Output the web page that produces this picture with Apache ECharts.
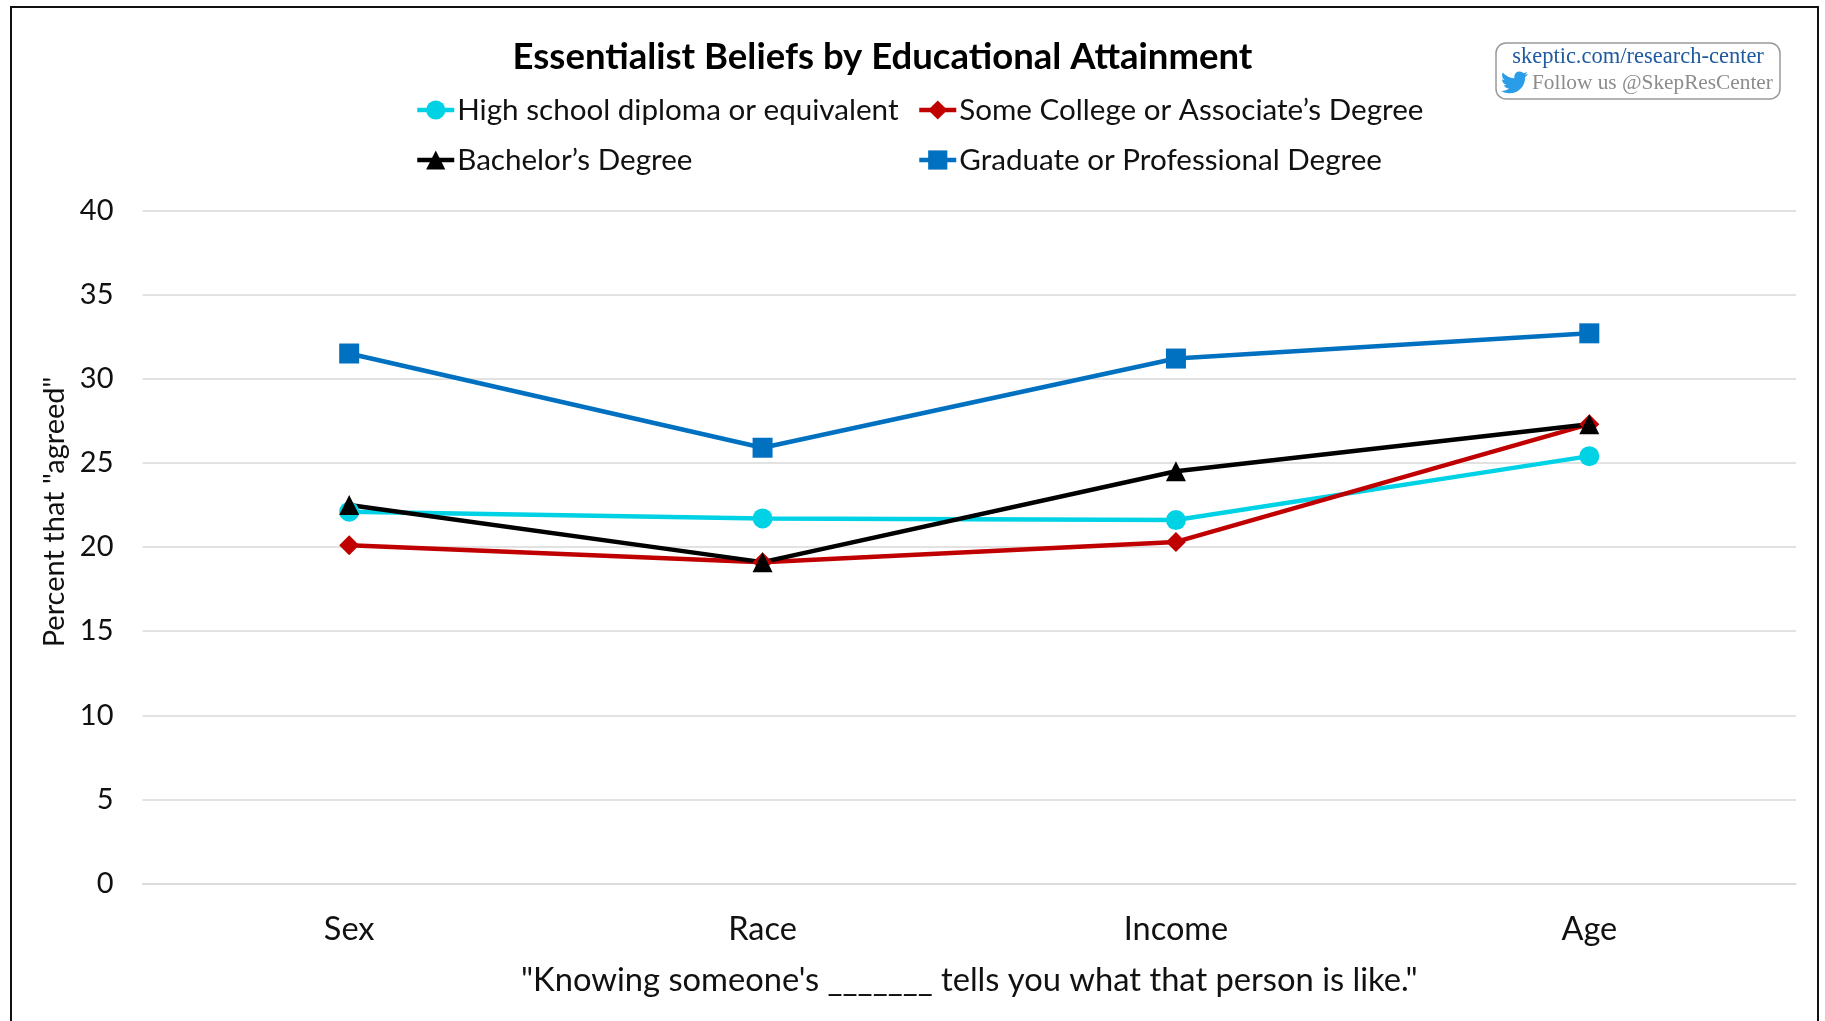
<!DOCTYPE html>
<html>
<head>
<meta charset="utf-8">
<style>html,body{margin:0;padding:0;background:#fff;overflow:hidden}#chart{width:1825px;height:1021px}</style>
<script src="https://cdn.jsdelivr.net/npm/echarts@6/dist/echarts.min.js"></script>
</head>
<body>
<div id="chart"></div>
<script>
const categories = ['Sex', 'Race', 'Income', 'Age'];
const highSchool = [22.1, 21.7, 21.6, 25.4];
const someCollege = [20.1, 19.1, 20.3, 27.3];
const bachelors = [22.5, 19.1, 24.5, 27.3];
const graduate = [31.5, 25.9, 31.2, 32.7];

const FONT = '"Lato", "Noto Sans", sans-serif';
const TEXT = '#111';
const TWITTER = 'M23.953 4.57 a10 10 0 0 1 -2.825 .775 a4.958 4.958 0 0 0 2.163 -2.723 c-.951 .555 -2.005 .959 -3.127 1.184 a4.92 4.92 0 0 0 -8.384 4.482 C7.69 8.095 4.067 6.13 1.64 3.162 a4.822 4.822 0 0 0 -.666 2.475 c0 1.71 .87 3.213 2.188 4.096 a4.904 4.904 0 0 1 -2.228 -.616 v.06 a4.923 4.923 0 0 0 3.946 4.827 a4.996 4.996 0 0 1 -2.212 .085 a4.936 4.936 0 0 0 4.604 3.417 a9.867 9.867 0 0 1 -6.102 2.105 c-.39 0 -.779 -.023 -1.17 -.067 a13.995 13.995 0 0 0 7.557 2.209 c9.053 0 13.998 -7.496 13.998 -13.985 c0 -.21 0 -.42 -.015 -.63 A9.935 9.935 0 0 0 24 4.59 z';

// The graphic component has no generic path element, so the bird is registered as a shape.
echarts.graphic.registerShape('twitterBird', echarts.graphic.extendPath(TWITTER, {}));

function line(name, data, color, symbol, size) {
  return {
    name, data, type: 'line', symbol, symbolSize: size,
    lineStyle: { color, width: 4.5 },
    itemStyle: { color },
    emphasis: { disabled: true },
    animation: false
  };
}

function legend(left, top, names) {
  return {
    left, top, orient: 'vertical', data: names, padding: 0,
    itemWidth: 37, itemHeight: 24, itemGap: 20,
    lineStyle: { width: 4.5 },
    textStyle: { fontFamily: FONT, fontSize: 29.6, color: TEXT, padding: [0, 0, 0, -2] }
  };
}

const chart = echarts.init(document.getElementById('chart'), null, { renderer: 'canvas' });
chart.setOption({
  animation: false,
  backgroundColor: '#fff',
  title: {
    text: 'Essentialist Beliefs by Educational Attainment',
    left: 877.5, top: 34, textAlign: 'center',
    textStyle: { fontFamily: FONT, fontSize: 36.5, fontWeight: 'bold', color: '#000' }
  },
  legend: [
    legend(415, 95, ['High school diploma or equivalent', 'Bachelor’s Degree']),
    legend(917, 95, ['Some College or Associate’s Degree', 'Graduate or Professional Degree'])
  ],
  grid: { left: 142.5, right: 29, top: 210.5, bottom: 137.5 },
  xAxis: {
    type: 'category', data: categories,
    name: '"Knowing someone\'s _______ tells you what that person is like."',
    nameLocation: 'middle', nameGap: 80,
    nameTextStyle: { fontFamily: FONT, fontSize: 32.7, color: TEXT },
    axisLine: { lineStyle: { color: '#d9d9d9', width: 1.5 } },
    axisTick: { show: false },
    axisLabel: { fontFamily: FONT, fontSize: 32.5, color: TEXT, margin: 30 }
  },
  yAxis: {
    type: 'value', min: 0, max: 40, interval: 5,
    name: 'Percent that "agreed"',
    nameLocation: 'middle', nameGap: 73,
    nameTextStyle: { fontFamily: FONT, fontSize: 29, color: TEXT, padding: [0, 0, 0, 70] },
    axisLabel: { fontFamily: FONT, fontSize: 29, color: TEXT, margin: 29 },
    splitLine: { lineStyle: { color: '#d9d9d9', width: 1.5 } }
  },
  series: [
    line('High school diploma or equivalent', highSchool, '#00d2e6', 'circle', 20),
    line('Some College or Associate’s Degree', someCollege, '#c00000', 'diamond', 20),
    line('Bachelor’s Degree', bachelors, '#000000', 'triangle', 20),
    line('Graduate or Professional Degree', graduate, '#0070c0', 'rect', 20)
  ],
  graphic: [
    { type: 'rect', silent: true, z: 100,
      shape: { x: 11, y: 7, width: 1807, height: 1040 },
      style: { fill: 'none', stroke: '#111', lineWidth: 2 } },
    { type: 'rect', silent: true, z: 100,
      shape: { x: 1496, y: 43, width: 284, height: 56, r: 10 },
      style: { fill: '#fff', stroke: '#999', lineWidth: 1.5 } },
    { type: 'text', silent: true, z: 101, x: 1638, y: 57,
      style: { text: 'skeptic.com/research-center', fill: '#1f5a9e', align: 'center', verticalAlign: 'middle',
        fontFamily: '"Liberation Serif", serif', fontSize: 22.5 } },
    { type: 'text', silent: true, z: 101, x: 1532, y: 83,
      style: { text: 'Follow us @SkepResCenter', fill: '#8c8c8c', align: 'left', verticalAlign: 'middle',
        fontFamily: '"Liberation Serif", serif', fontSize: 21.3 } },
    { type: 'twitterBird', silent: true, z: 101, x: 1501, y: 69, scaleX: 1.12, scaleY: 1.12,
      style: { fill: '#2b9de8' } }
  ]
});
</script>
</body>
</html>
